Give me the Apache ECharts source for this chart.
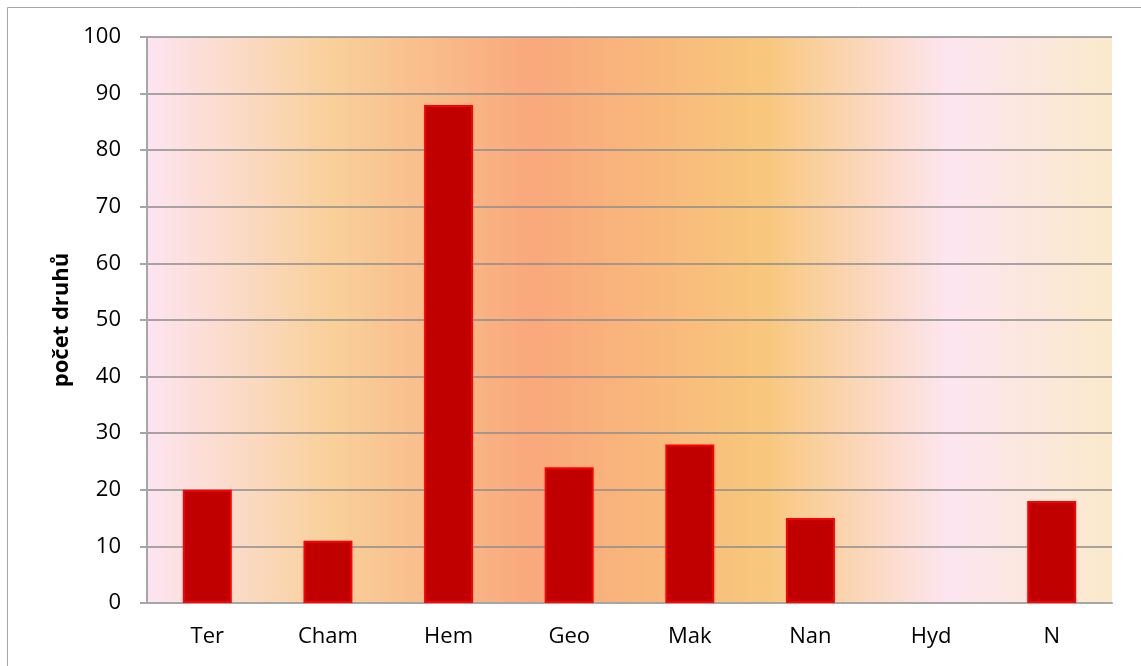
<!DOCTYPE html>
<html>
<head>
<meta charset="utf-8">
<script src="https://cdn.jsdelivr.net/npm/echarts@6/dist/echarts.min.js"></script>
<style>
  html, body { margin: 0; padding: 0; background: #fff; }
  #chart { width: 1141px; height: 666px; }
</style>
</head>
<body>
<div id="chart"></div>
<script>
// data
const categories = ['Ter', 'Cham', 'Hem', 'Geo', 'Mak', 'Nan', 'Hyd', 'N']
const druhy = [20, 11, 88, 24, 28, 15, 0, 18]
const yName = 'počet druhů'

const chart = echarts.init(document.getElementById('chart'))

const option = {
  animation: false,
  backgroundColor: '#fff',
  textStyle: { fontFamily: 'Open Sans' },
  graphic: [{
    type: 'rect',
    shape: { x: 7.5, y: 7.5, width: 1140, height: 670 },
    style: { fill: 'none', stroke: '#a6a6a6', lineWidth: 1 },
    silent: true
  }],
  grid: {
    left: 147,
    right: 29,
    top: 37,
    bottom: 63,
    show: true,
    borderWidth: 0,
    backgroundColor: {
      type: 'linear',
      x: 0, y: 0, x2: 1, y2: 0,
      colorStops: [
        { offset: 0, color: '#fde4f1' },
        { offset: 0.19, color: '#f9d09a' },
        { offset: 0.40, color: '#f9a87b' },
        { offset: 0.64, color: '#f8c77c' },
        { offset: 0.83, color: '#fde5f0' },
        { offset: 1, color: '#fae9cb' }
      ]
    }
  },
  xAxis: {
    type: 'category',
    data: categories,
    axisTick: { show: false },
    axisLine: { lineStyle: { color: '#a6a6a6', width: 2 } },
    axisLabel: {
      color: '#000',
      fontSize: 22,
      margin: 23
    }
  },
  yAxis: {
    type: 'value',
    min: 0,
    max: 100,
    interval: 10,
    name: yName,
    nameLocation: 'middle',
    nameGap: 74,
    nameTextStyle: {
      color: '#000',
      fontSize: 22,
      fontWeight: 'bold'
    },
    axisLine: { show: true, lineStyle: { color: '#a6a6a6', width: 2 } },
    axisTick: { show: true, length: 7, lineStyle: { color: '#a6a6a6', width: 2 } },
    axisLabel: {
      color: '#000',
      fontSize: 22,
      margin: 26
    },
    splitLine: { lineStyle: { color: '#8c8c8c', width: 1.5 } }
  },
  series: [{
    type: 'bar',
    // zero values get no outline, so nothing shows on the axis
    data: druhy.map(v => v === 0 ? { value: v, itemStyle: { borderWidth: 0 } } : v),
    barWidth: 49,
    itemStyle: {
      color: '#c00000',
      borderColor: '#ff0000',
      borderWidth: 2
    }
  }]
}

chart.setOption(option)
</script>
</body>
</html>
